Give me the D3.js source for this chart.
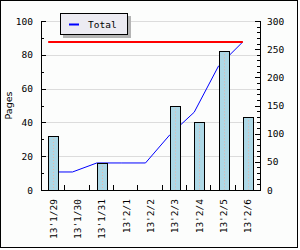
<!DOCTYPE html>
<html>
<head>
<meta charset="utf-8">
<script src="https://d3js.org/d3.v7.min.js"></script>
<style>
  body { margin: 0; background: #fff; }
  text { font-family: "DejaVu Sans Mono", monospace; font-size: 9.5px; fill: #000; }
</style>
</head>
<body>
<svg width="300" height="250"></svg>
<script>
// data
var days = ["13'1/29", "13'1/30", "13'1/31", "13'2/1", "13'2/2", "13'2/3", "13'2/4", "13'2/5", "13'2/6"];
var pages = [32, 0, 16, 0, 0, 50, 40, 82, 43];
var total = [32, 32, 48, 48, 48, 98, 138, 220, 263];
var totalLevel = [263];
var leftTicks = [0, 20, 40, 60, 80, 100];
var rightTicks = [0, 50, 100, 150, 200, 250, 300];

var svg = d3.select("svg"),
    width = +svg.attr("width"),
    height = +svg.attr("height");

var pLeft = 41, pRight = 260, pTop = 21, pBottom = 190;

// frame
svg.append("rect")
    .attr("x", 0.5).attr("y", 0.5)
    .attr("width", 297).attr("height", 247)
    .attr("fill", "#fcfdfc")
    .attr("stroke", "#000");

var x = d3.scaleBand().domain(days).range([pLeft, pRight]);
var y = d3.scaleLinear().domain([0, 100]).range([pBottom, pTop]);
var y2 = d3.scaleLinear().domain([0, 300]).range([pBottom, pTop]);
var barW = x.step() * 0.41;
var barX = function(d){ return x(d) + (x.step() - barW) / 2 };

// grid
svg.append("g")
  .selectAll("line")
  .data(leftTicks.filter(function(d){ return d > 0 }))
  .enter()
  .append("line")
    .attr("x1", pLeft).attr("x2", pRight)
    .attr("y1", function(d){ return Math.round(y(d)) + 0.5 })
    .attr("y2", function(d){ return Math.round(y(d)) + 0.5 })
    .attr("stroke", "#dcdcdc");

// cumulative line (behind bars)
var line = d3.line()
    .x(function(d, i){ return barX(days[i]) })
    .y(function(d){ return y2(d) });
svg.append("path")
    .datum(total)
    .attr("d", line)
    .attr("fill", "none")
    .attr("stroke", "#0000ff")
    .attr("stroke-width", 1);

// bars
var bars = svg.append("g")
  .selectAll("g")
  .data(pages.map(function(v, i){ return {day: days[i], v: v} }).filter(function(d){ return d.v > 0 }))
  .enter()
  .append("g");
bars.append("rect")
    .attr("x", function(d){ return Math.round(barX(d.day)) + 0.5 })
    .attr("y", function(d){ return Math.round(y(d.v)) + 0.5 })
    .attr("width", Math.round(barW))
    .attr("height", function(d){ return Math.round(y(0)) - Math.round(y(d.v)) })
    .attr("fill", "#add8e6")
    .attr("stroke", "#000");
bars.append("line")
    .attr("x1", function(d){ return Math.round(barX(d.day) + barW / 2) + 0.5 })
    .attr("x2", function(d){ return Math.round(barX(d.day) + barW / 2) + 0.5 })
    .attr("y1", function(d){ return y(d.v) + 3 })
    .attr("y2", y(0))
    .attr("stroke", "#e8b4a8")
    .style("stroke-dasharray", "1,2");

// total level line
svg.append("g")
  .selectAll("line")
  .data(totalLevel)
  .enter()
  .append("line")
    .attr("x1", barX(days[0]))
    .attr("x2", barX(days[days.length - 1]))
    .attr("y1", function(d){ return Math.round(y2(d)) })
    .attr("y2", function(d){ return Math.round(y2(d)) })
    .attr("stroke", "#ff0000")
    .attr("stroke-width", 2);

// axes
var axes = svg.append("g").attr("stroke", "#000");
axes.append("line").attr("x1", pLeft + 0.5).attr("x2", pLeft + 0.5).attr("y1", pTop).attr("y2", pBottom + 0.5);
axes.append("line").attr("x1", pRight + 0.5).attr("x2", pRight + 0.5).attr("y1", pTop).attr("y2", pBottom + 0.5);
axes.append("line").attr("x1", pLeft).attr("x2", pRight + 1).attr("y1", pBottom + 0.5).attr("y2", pBottom + 0.5);

// left ticks
axes.selectAll(".lt")
  .data(y.ticks(10))
  .enter()
  .append("line")
    .attr("x1", pLeft)
    .attr("x2", function(d){ return pLeft + (d % 20 === 0 ? 5 : 3) })
    .attr("y1", function(d){ return Math.round(y(d)) + 0.5 })
    .attr("y2", function(d){ return Math.round(y(d)) + 0.5 });

// right ticks
axes.selectAll(".rt")
  .data(y2.ticks(30))
  .enter()
  .append("line")
    .attr("x1", pRight + 1)
    .attr("x2", function(d){ return pRight + 1 - (d % 50 === 0 ? 6 : 4) })
    .attr("y1", function(d){ return Math.round(y2(d)) + 0.5 })
    .attr("y2", function(d){ return Math.round(y2(d)) + 0.5 });

// bottom ticks at band edges
axes.selectAll(".bt")
  .data(days.slice(1))
  .enter()
  .append("line")
    .attr("x1", function(d){ return Math.round(x(d)) - 0.5 })
    .attr("x2", function(d){ return Math.round(x(d)) - 0.5 })
    .attr("y1", pBottom)
    .attr("y2", pBottom - 5);

// tick labels
svg.append("g")
  .selectAll("text")
  .data(leftTicks)
  .enter()
  .append("text")
    .attr("x", pLeft - 8)
    .attr("y", function(d){ return y(d) })
    .attr("text-anchor", "end")
    .attr("dominant-baseline", "central")
    .text(function(d){ return d });

svg.append("g")
  .selectAll("text")
  .data(rightTicks)
  .enter()
  .append("text")
    .attr("x", pRight + 7)
    .attr("y", function(d){ return y2(d) })
    .attr("dominant-baseline", "central")
    .text(function(d){ return d });

svg.append("g")
  .selectAll("text")
  .data(days)
  .enter()
  .append("text")
    .attr("transform", function(d){ return "translate(" + (x(d) + x.step() / 2 + 3.5) + "," + (pBottom + 9) + ") rotate(-90)" })
    .attr("text-anchor", "end")
    .text(function(d){ return d });

// axis title
svg.append("text")
    .attr("transform", "translate(12," + ((pTop + pBottom) / 2) + ") rotate(-90)")
    .attr("text-anchor", "middle")
    .style("font-family", "'DejaVu Sans', sans-serif")
    .text("Pages");

// legend
var lg = svg.append("g").attr("transform", "translate(60,13)");
lg.append("rect")
    .attr("x", 3).attr("y", 3)
    .attr("width", 68).attr("height", 22)
    .attr("fill", "#b4b4b4");
lg.append("rect")
    .attr("x", 0.5).attr("y", 0.5)
    .attr("width", 67).attr("height", 21)
    .attr("fill", "#ecebf2")
    .attr("stroke", "#000");
lg.append("line")
    .attr("x1", 9).attr("x2", 19)
    .attr("y1", 11.5).attr("y2", 11.5)
    .attr("stroke", "#0000ff")
    .attr("stroke-width", 2);
lg.append("text")
    .attr("x", 28).attr("y", 15)
    .text("Total");
</script>
</body>
</html>
